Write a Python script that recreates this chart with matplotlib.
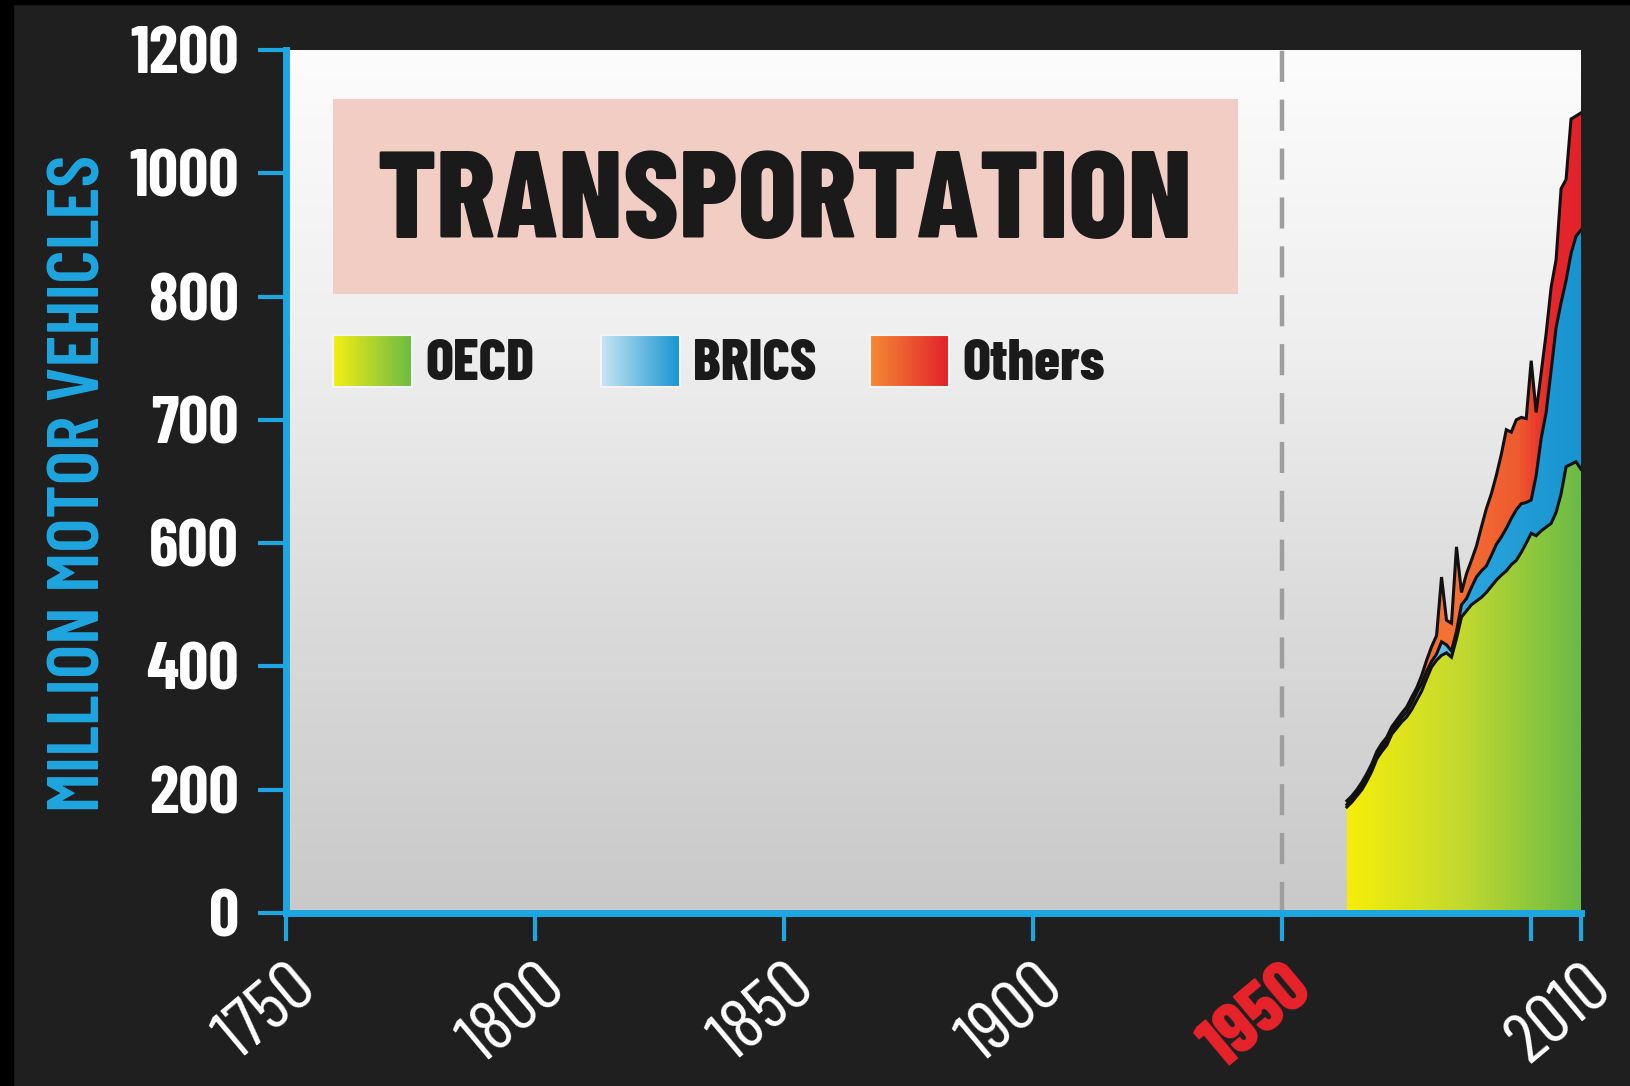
import numpy as np
import matplotlib
matplotlib.use("Agg")
import matplotlib.pyplot as plt
from matplotlib.colors import LinearSegmentedColormap
from matplotlib.patches import Rectangle
import matplotlib.transforms as mtransforms

# ---------------- data ----------------
years = list(range(1963, 2011))
oecd = [172, 180, 190, 200, 214, 230, 250, 262, 272, 290, 300, 310, 318, 330, 345,
        360, 380, 399, 410, 418, 422, 415, 445, 480, 490, 500, 506, 512, 520, 530,
        540, 548, 555, 565, 572, 585, 600, 608, 606, 610, 613, 616, 625, 640, 662,
        664, 666, 660]
brics = [4, 5, 5, 5, 5, 6, 6, 6, 6, 6, 6, 7, 8, 10, 12,
         12, 12, 9, 10, 22, 13, 10, 12, 20, 20, 28, 39, 43, 43, 50,
         58, 57, 57, 55, 55, 47, 33, 27, 49, 75, 93, 124, 150, 155, 164,
         206, 232, 248]
others = [6, 5, 5, 7, 7, 6, 6, 7, 7, 6, 7, 7, 8, 10, 8,
          13, 18, 24, 30, 105, 40, 45, 137, 20, 40, 44, 50, 58, 65, 60,
          57, 67, 80, 70, 73, 70, 68, 113, 51, 53, 64, 75, 85, 180, 164,
          218, 195, 190]

y_ticks = [0, 200, 400, 600, 700, 800, 1000, 1200]
x_ticks = [1750, 1800, 1850, 1900, 1950, 2000, 2010]
x_ticklabels = ["1750", "1800", "1850", "1900", "1950", "", "2010"]
series_names = ["OECD", "BRICS", "Others"]
title = "TRANSPORTATION"
ylabel = "MILLION MOTOR VEHICLES"
highlight_year = 1950

# ---------------- style ----------------
BG = "#1f1f1f"
BLUE = "#1ea6e0"
FONT = ["Barlow Condensed", "DejaVu Sans"]
plt.rcParams["font.family"] = FONT

W, H = 1631, 1086
fig = plt.figure(figsize=(W / 100, H / 100), dpi=100, facecolor=BG)
fig.patches.append(Rectangle((0, 0), 13 / W, 1, transform=fig.transFigure, color="black", zorder=0))
fig.patches.append(Rectangle((0, 1 - 4 / H), 1, 4 / H, transform=fig.transFigure, color="black", zorder=0))

L, R, T, B = 286, 1581, 50, 913
ax = fig.add_axes([L / W, 1 - B / H, (R - L) / W, (B - T) / H])

# piecewise scale: the labelled ticks are equally spaced on the chart
tick_idx = np.arange(len(y_ticks), dtype=float)
def fwd(v):
    return np.interp(v, y_ticks, tick_idx)
def inv(v):
    return np.interp(v, tick_idx, y_ticks)
ax.set_yscale("function", functions=(fwd, inv))

x = np.array(years, dtype=float)
c1 = np.array(oecd, dtype=float)
c2 = c1 + np.array(brics, dtype=float)
c3 = c2 + np.array(others, dtype=float)

xmin, xmax = x_ticks[0], x_ticks[-1]
def frac(yr):
    return (yr - xmin) / (xmax - xmin)

# axes background: vertical white -> grey gradient
bgcmap = LinearSegmentedColormap.from_list("bg", ["#c9c9c9", "#dadada", "#efefef", "#fcfcfc"])
ax.imshow(np.linspace(0, 1, 256).reshape(-1, 1), cmap=bgcmap, aspect="auto",
          extent=[0, 1, 0, 1], origin="lower", transform=ax.transAxes, zorder=0)
ax.patch.set_visible(False)

def gradient_fill(lower, upper, stops, z):
    poly = ax.fill_between(x, lower, upper, facecolor="none", edgecolor="none", zorder=z)
    cmap = LinearSegmentedColormap.from_list("g", stops)
    im = ax.imshow(np.linspace(0, 1, 512).reshape(1, -1), cmap=cmap, aspect="auto",
                   extent=[0, 1, 0, 1], origin="lower", transform=ax.transAxes, zorder=z)
    im.set_clip_path(poly.get_paths()[0], transform=poly.get_transform())
    poly.remove()

f0 = frac(years[0])
gradient_fill(np.zeros_like(c1), c1,
              [(0, "#f7ee08"), (f0, "#f7ee08"), (f0 + 0.5 * (1 - f0), "#c2d92f"), (1, "#6bbb45")], 2)
gradient_fill(c1, c2,
              [(0, "#9ad6ef"), (frac(1978), "#8fd1ee"), (frac(1988), "#2aa4dc"), (1, "#1894d1")], 3)
gradient_fill(c2, c3,
              [(0, "#f58a34"), (frac(1985), "#f47033"), (frac(1998), "#ef5a2e"),
               (frac(2004), "#e5282a"), (1, "#e2222a")], 4)

for top in (c1, c2, c3):
    ax.plot(x, top, color="#111111", lw=2.2, zorder=6, solid_joinstyle="miter")

# dashed 1950 marker
ax.axvline(highlight_year, color="#9e9e9e", lw=3.2, dashes=(7, 4), zorder=1)

ax.set_xlim(xmin, xmax)
ax.set_ylim(y_ticks[0], y_ticks[-1])

for s in ("top", "right"):
    ax.spines[s].set_visible(False)
for s in ("left", "bottom"):
    ax.spines[s].set_color(BLUE)
    ax.spines[s].set_linewidth(5)
    ax.spines[s].set_zorder(8)

ax.set_yticks(y_ticks)
ax.set_yticklabels([str(v) for v in y_ticks])
ax.set_xticks(x_ticks)
ax.set_xticklabels(x_ticklabels)
ax.tick_params(axis="both", direction="out", length=20, width=3, color=BLUE)
ax.tick_params(axis="y", pad=14, labelsize=48, labelcolor="white")
ax.tick_params(axis="x", pad=10, labelsize=52, labelcolor="white")
for lab in ax.get_yticklabels():
    lab.set_fontweight(700)
for lab in ax.get_xticklabels():
    lab.set_rotation(40)
    lab.set_ha("right")
    lab.set_va("top")
    lab.set_fontweight(400)
    lab.set_transform(lab.get_transform() + mtransforms.ScaledTranslation(42 / 100, 0, fig.dpi_scale_trans))
    if lab.get_text() == str(highlight_year):
        lab.set_color("#e8232b")
        lab.set_fontweight(800)

# y label
fig.text(81 / W, 1 - 483 / H, ylabel, rotation=90, ha="center", va="center",
         color=BLUE, fontsize=53, fontweight=600)

# title box
ax.add_patch(Rectangle((0.0363, 0.717), 0.735 - 0.0363, 0.943 - 0.717, transform=ax.transAxes,
                       facecolor="#f2cdc4", edgecolor="none", zorder=1))
ax.text(0.385, 0.819, title, transform=ax.transAxes, ha="center", va="center",
        fontsize=89, fontweight=800, color="#1a1a1a", zorder=2)

# legend
leg_stops = [["#f3ee10", "#6bbb45"], ["#c6e6f4", "#1894d1"], ["#f58a34", "#e2222a"]]
leg_x = [0.0363, 0.243, 0.451]
leg_w = 0.061
leg_y0, leg_y1 = 0.609, 0.670
for name, stops, lx in zip(series_names, leg_stops, leg_x):
    cm = LinearSegmentedColormap.from_list("l", stops)
    ax.imshow(np.linspace(0, 1, 128).reshape(1, -1), cmap=cm, aspect="auto",
              extent=[lx, lx + leg_w, leg_y0, leg_y1], transform=ax.transAxes, zorder=2)
    ax.add_patch(Rectangle((lx, leg_y0), leg_w, leg_y1 - leg_y0, transform=ax.transAxes,
                           facecolor="none", edgecolor="#f4f4f4", lw=1.5, zorder=3))
    ax.text(lx + leg_w + 0.01, (leg_y0 + leg_y1) / 2 - 0.004, name, transform=ax.transAxes,
            ha="left", va="center", fontsize=42, fontweight=800, color="#1a1a1a", zorder=3)

ax.set_xlim(xmin, xmax)
ax.set_ylim(y_ticks[0], y_ticks[-1])
fig.savefig("out.png", dpi=100, facecolor=BG)
